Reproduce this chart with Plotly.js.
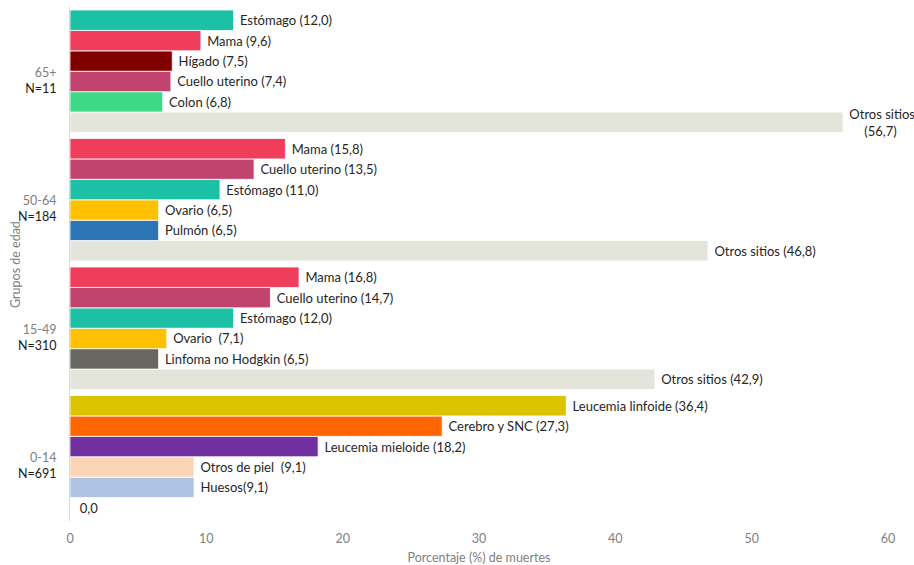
<!DOCTYPE html>
<html><head><meta charset="utf-8">
<script src="https://cdn.plot.ly/plotly-3.0.1.min.js"></script>
<style>html,body{margin:0;padding:0;background:#fff}#chart{width:914px;height:565px}</style>
</head><body><div id="chart"></div>
<script>
// Age groups (top to bottom) and their sample sizes
const groups = ['65+', '50-64', '15-49', '0-14'];
const groupN = ['N=11', 'N=184', 'N=310', 'N=691'];

// Causes listed top to bottom within each age group (names keep the spacing shown in the labels)
const sites65 = ['Estómago ', 'Mama ', 'Hígado ', 'Cuello uterino ', 'Colon ', 'Otros sitios '];
const values65 = [12.0, 9.6, 7.5, 7.4, 6.8, 56.7];

const sites5064 = ['Mama ', 'Cuello uterino ', 'Estómago ', 'Ovario ', 'Pulmón ', 'Otros sitios '];
const values5064 = [15.8, 13.5, 11.0, 6.5, 6.5, 46.8];

const sites1549 = ['Mama ', 'Cuello uterino ', 'Estómago ', 'Ovario  ', 'Linfoma no Hodgkin ', 'Otros sitios '];
const values1549 = [16.8, 14.7, 12.0, 7.1, 6.5, 42.9];

const sites014 = ['Leucemia linfoide ', 'Cerebro y SNC ', 'Leucemia mieloide ', 'Otros de piel  ', 'Huesos', ''];
const values014 = [36.4, 27.3, 18.2, 9.1, 9.1, 0.0];

const xTicks = [0, 10, 20, 30, 40, 50, 60];

const siteColors = {
  'Estómago': '#1CC1A5',
  'Mama': '#F03D5C',
  'Hígado': '#800000',
  'Cuello uterino': '#C1446F',
  'Colon': '#3DD986',
  'Otros sitios': '#E3E5DB',
  'Ovario': '#FFC000',
  'Pulmón': '#2E75B6',
  'Linfoma no Hodgkin': '#686661',
  'Leucemia linfoide': '#DCC500',
  'Cerebro y SNC': '#FF6600',
  'Leucemia mieloide': '#7030A0',
  'Otros de piel': '#FCD5B5',
  'Huesos': '#AEC3E3',
  '': '#FFFFFF'
};

const allSites = [sites65, sites5064, sites1549, sites014];
const allValues = [values65, values5064, values1549, values014];

function fmt(v) { return v.toFixed(1).replace('.', ','); }
function makeLabel(name, v) {
  if (!name) return '\u00a0\u00a0' + fmt(v);
  const n = name.replace(/  /g, ' \u00a0');
  const sep = v > 50 ? '<br>' : '';
  return '\u00a0' + (sep ? n.trim() + sep : n) + '(' + fmt(v) + ')';
}

const traces = [];
// Plotly stacks grouped horizontal bars bottom-up, so add the bottom slot first
for (let k = 5; k >= 0; k--) {
  const x = [], text = [], colors = [];
  allSites.forEach((s, gi) => {
    const v = allValues[gi][k];
    x.push(v);
    text.push(makeLabel(s[k], v));
    colors.push(siteColors[s[k].trim()]);
  });
  traces.push({
    type: 'bar',
    orientation: 'h',
    y: groups.slice(),
    x: x,
    text: text,
    textposition: 'outside',
    constraintext: 'none',
    cliponaxis: false,
    textfont: { family: 'Lato, sans-serif', size: 13, color: '#262626' },
    marker: { color: colors, line: { color: '#FFFFFF', width: 0.8 } },
    hoverinfo: 'x+y',
    showlegend: false
  });
}

const layout = {
  width: 914, height: 565,
  margin: { l: 70, r: 26, t: 7, b: 44 },
  paper_bgcolor: '#FFFFFF', plot_bgcolor: '#FFFFFF',
  font: { family: 'Lato, sans-serif', size: 12, color: '#808080' },
  barmode: 'group',
  bargap: 0.047,
  bargroupgap: 0,
  xaxis: {
    range: [0, 60],
    tickvals: xTicks,
    ticktext: xTicks.map(String),
    showgrid: false, zeroline: false, showline: false,
    ticks: '',
    tickfont: { size: 12.5, color: '#808080' },
    ticklabelstandoff: 8,
    title: { text: 'Porcentaje (%) de muertes', font: { size: 12.5, color: '#808080' }, standoff: 8 },
    automargin: false,
    fixedrange: true
  },
  yaxis: {
    type: 'category',
    categoryorder: 'array',
    categoryarray: groups.slice().reverse(),
    tickvals: groups,
    ticktext: groups.map((g, i) => '<span style="color:#808080">' + g + '</span><br><span style="color:#1a1a1a">' + groupN[i] + '</span>'),
    tickfont: { size: 12.5 },
    ticks: '',
    ticklabelstandoff: 10,
    ticklabelshift: 9,
    showgrid: false, zeroline: false,
    showline: true, linecolor: '#D9D9D9', linewidth: 1,
    automargin: false,
    fixedrange: true
  },
  annotations: [{
    text: 'Grupos de edad',
    xref: 'paper', yref: 'paper',
    x: -55 / 818, y: 0.5,
    xanchor: 'center', yanchor: 'middle',
    textangle: -90,
    showarrow: false,
    font: { size: 12.5, color: '#808080' }
  }]
};

Plotly.newPlot('chart', traces, layout, { displayModeBar: false, staticPlot: true });
</script>
</body></html>
